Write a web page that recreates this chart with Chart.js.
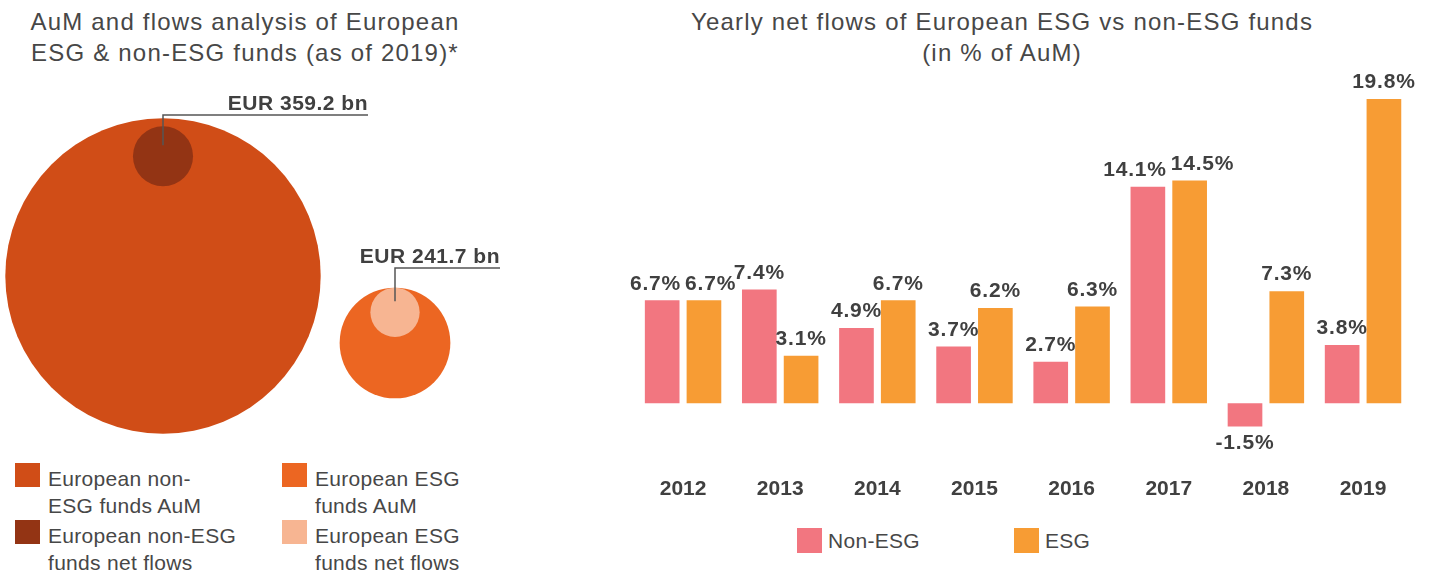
<!DOCTYPE html>
<html>
<head>
<meta charset="utf-8">
<script src="https://cdn.jsdelivr.net/npm/chart.js@4.4.1/dist/chart.umd.min.js"></script>
<style>
    body { margin: 0; width: 1429px; height: 573px; overflow: hidden; background: #fff;
           font-family: 'Liberation Sans', Arial, sans-serif; color: #444; }
    .title { position: absolute; top: 6px; font-size: 24px; line-height: 31px; letter-spacing: 1.2px; text-align: center; color: #474747; }
    .box { position: absolute; }
    .swatch { position: absolute; width: 25px; height: 24px; }
    .lg { position: absolute; font-size: 21px; line-height: 27px; letter-spacing: 0.3px; color: #474747; white-space: nowrap; }
</style>
</head>
<body>
<div class="title" style="left:0; width:490px;">AuM and flows analysis of European<br>ESG &amp; non-ESG funds (as of 2019)*</div>
<div class="title" style="left:600px; width:804px;">Yearly net flows of European ESG vs non-ESG funds<br>(in % of AuM)</div>

<div class="box" style="left:0; top:80px;"><canvas id="bubbleChart" width="520" height="370"></canvas></div>
<div class="box" style="left:600px; top:60px;"><canvas id="flowsChart" width="829" height="460"></canvas></div>

<div id="bubbleLegend"></div>
<div id="barLegend"></div>

<script>
// ---- data ----
const fundGroups = ['European non-ESG funds', 'European ESG funds'];
const aumValues = [9900, 1220];          // EUR bn, read from circle areas
const netFlowValues = [359.2, 241.7];    // EUR bn
const flowLabels = ['EUR 359.2 bn', 'EUR 241.7 bn'];

const years = ['2012', '2013', '2014', '2015', '2016', '2017', '2018', '2019'];
const nonEsgFlows = [6.7, 7.4, 4.9, 3.7, 2.7, 14.1, -1.5, 3.8];
const esgFlows = [6.7, 3.1, 6.7, 6.2, 6.3, 14.5, 7.3, 19.8];

// ---- styles / layout ----
const aumColors = ['#D04D17', '#EC6622'];
const flowColors = ['#933414', '#F7B592'];
const pinkColor = '#F27680';
const orangeColor = '#F79C34';
const labelColor = '#404040';
const FONT = "'Liberation Sans', Arial, sans-serif";

const RADIUS_SCALE = 1.585;
const outerCenters = [{ x: 163, y: 276 }, { x: 395, y: 343 }];
const innerInset = [8, 0];
const leaderElbowY = [115, 268];
const leaderEndX = [368, 500];

const radiusOf = v => RADIUS_SCALE * Math.sqrt(v);

const aumPoints = aumValues.map((v, i) => ({ x: outerCenters[i].x, y: outerCenters[i].y, r: radiusOf(v) }));
const flowPoints = netFlowValues.map((v, i) => {
    const R = radiusOf(aumValues[i]);
    const r = radiusOf(v);
    return { x: outerCenters[i].x, y: outerCenters[i].y - R + r + innerInset[i], r: r };
});

const leaderPlugin = {
    id: 'leaders',
    afterDatasetsDraw(chart) {
        const ctx = chart.ctx;
        const xs = chart.scales.x, ys = chart.scales.y;
        const meta = chart.getDatasetMeta(0);
        ctx.save();
        ctx.strokeStyle = '#555';
        ctx.lineWidth = 1.5;
        ctx.fillStyle = labelColor;
        ctx.font = 'bold 21px ' + FONT;
        ctx.textAlign = 'right';
        ctx.textBaseline = 'alphabetic';
        if ('letterSpacing' in ctx) ctx.letterSpacing = '0.5px';
        meta.data.forEach((pt, i) => {
            const ey = ys.getPixelForValue(leaderElbowY[i]);
            const ex = xs.getPixelForValue(leaderEndX[i]);
            ctx.beginPath();
            ctx.moveTo(pt.x, pt.y - 11);
            ctx.lineTo(pt.x, ey);
            ctx.lineTo(ex, ey);
            ctx.stroke();
            ctx.fillText(flowLabels[i], ex, ey - 5);
        });
        ctx.restore();
    }
};

new Chart(document.getElementById('bubbleChart'), {
    type: 'bubble',
    data: {
        datasets: [
            { label: 'net flows', data: flowPoints, backgroundColor: flowColors, borderWidth: 0, hoverRadius: 0 },
            { label: 'AuM', data: aumPoints, backgroundColor: aumColors, borderWidth: 0, hoverRadius: 0 }
        ]
    },
    options: {
        responsive: false,
        animation: false,
        devicePixelRatio: 1,
        layout: { autoPadding: false, padding: 0 },
        scales: {
            x: { display: false, min: 0, max: 520 },
            y: { display: false, min: 80, max: 450, reverse: true }
        },
        plugins: { legend: { display: false }, tooltip: { enabled: false } }
    },
    plugins: [leaderPlugin]
});

// value labels above / below bars, pushed apart when they collide
const valueLabelPlugin = {
    id: 'valueLabels',
    afterDatasetsDraw(chart) {
        const ctx = chart.ctx;
        ctx.save();
        ctx.font = 'bold 21px ' + FONT;
        if ('letterSpacing' in ctx) ctx.letterSpacing = '0.8px';
        ctx.fillStyle = labelColor;
        ctx.textAlign = 'center';
        const metas = [chart.getDatasetMeta(0), chart.getDatasetMeta(1)];
        years.forEach((year, i) => {
            const items = metas.map((meta, d) => {
                const bar = meta.data[i];
                const v = chart.data.datasets[d].data[i];
                const text = v.toFixed(1) + '%';
                const w = ctx.measureText(text).width;
                const neg = v < 0;
                const y = neg ? bar.y + 6 : bar.y - 6;
                return { text, w, x: bar.x, y, neg };
            });
            const a = items[0], b = items[1];
            const overlap = (a.x + a.w / 2 + 4) - (b.x - b.w / 2);
            if (!a.neg && !b.neg && Math.abs(a.y - b.y) < 22 && overlap > 0) {
                a.x -= overlap / 2;
                b.x += overlap / 2;
            }
            items.forEach(it => {
                ctx.textBaseline = it.neg ? 'top' : 'bottom';
                ctx.fillText(it.text, it.x, it.y);
            });
        });
        ctx.restore();
    }
};

new Chart(document.getElementById('flowsChart'), {
    type: 'bar',
    data: {
        labels: years,
        datasets: [
            { label: 'Non-ESG', data: nonEsgFlows, backgroundColor: pinkColor },
            { label: 'ESG', data: esgFlows, backgroundColor: orangeColor }
        ]
    },
    options: {
        responsive: false,
        animation: false,
        devicePixelRatio: 1,
        barPercentage: 0.83,
        categoryPercentage: 0.86,
        layout: { padding: { left: 34.5, right: 17.4, top: 20.6, bottom: 7 } },
        scales: {
            x: {
                grid: { display: false, drawTicks: false },
                border: { display: false },
                ticks: { color: labelColor, font: { family: FONT, size: 21, weight: 'bold' }, padding: 11.5 }
            },
            y: { display: false, min: -4, max: 21 }
        },
        plugins: { legend: { display: false }, tooltip: { enabled: false } }
    },
    plugins: [valueLabelPlugin]
});

// ---- legends (html) ----
const bubbleLegendItems = [
    { color: aumColors[0], text: 'European non-<br>ESG funds AuM', x: 15, y: 463 },
    { color: aumColors[1], text: 'European ESG<br>funds AuM', x: 282, y: 463 },
    { color: flowColors[0], text: 'European non-ESG<br>funds net flows', x: 15, y: 520 },
    { color: flowColors[1], text: 'European ESG<br>funds net flows', x: 282, y: 520 }
];
document.getElementById('bubbleLegend').innerHTML = bubbleLegendItems.map(it =>
    `<div class="swatch" style="left:${it.x}px;top:${it.y}px;background:${it.color}"></div>` +
    `<div class="lg" style="left:${it.x + 33}px;top:${it.y + 2}px">${it.text}</div>`
).join('');

const barLegendItems = [
    { color: pinkColor, text: 'Non-ESG', x: 797 },
    { color: orangeColor, text: 'ESG', x: 1014 }
];
document.getElementById('barLegend').innerHTML = barLegendItems.map(it =>
    `<div class="swatch" style="left:${it.x}px;top:528px;height:25px;background:${it.color}"></div>` +
    `<div class="lg" style="left:${it.x + 31}px;top:527px">${it.text}</div>`
).join('');
</script>
</body>
</html>
